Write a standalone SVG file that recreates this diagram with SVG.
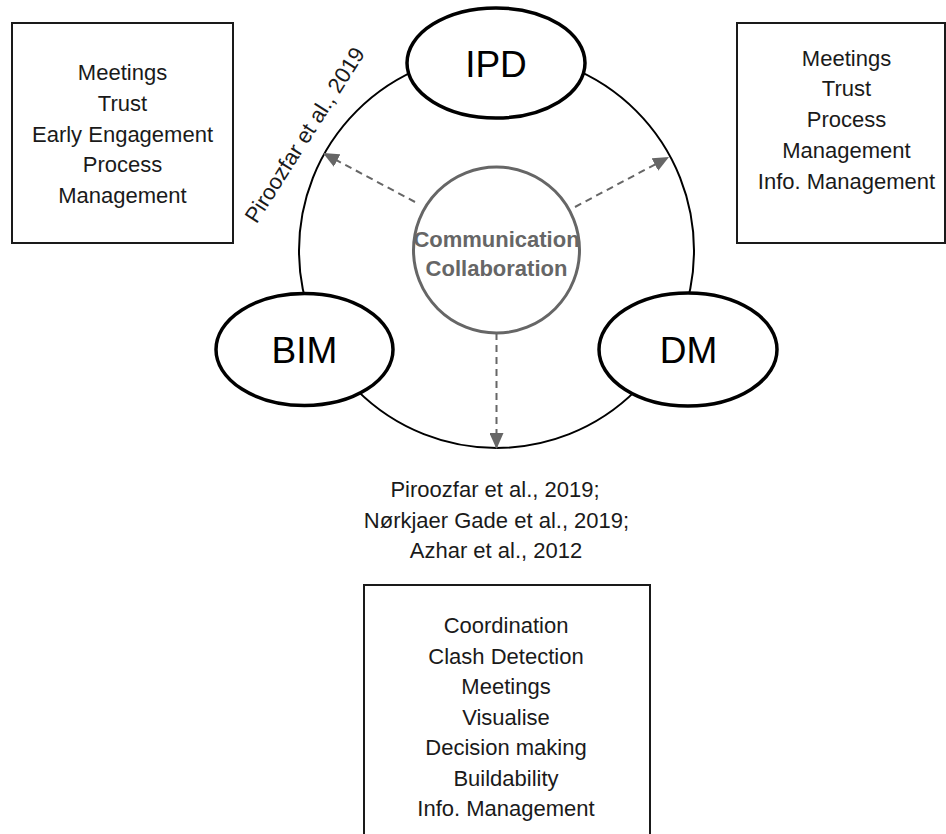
<svg xmlns="http://www.w3.org/2000/svg" width="946" height="834" viewBox="0 0 946 834">
<style>
.t{font-family:"Liberation Sans",Arial,sans-serif;font-size:22px;fill:#1a1a1a;text-anchor:middle}
.big{font-size:37px;fill:#000}
.box{fill:#fff;stroke:#1a1a1a;stroke-width:2}
.ell{fill:#fff;stroke:#000;stroke-width:3.5}
.dash{fill:none;stroke:#666;stroke-width:2;stroke-dasharray:7 5}
</style>
<defs>
<marker id="ah" viewBox="0 0 16 14" refX="16" refY="7" markerWidth="16" markerHeight="14" markerUnits="userSpaceOnUse" orient="auto">
<path d="M0,0 L16,7 L0,14 z" fill="#666"/>
</marker>
</defs>
<rect width="946" height="834" fill="#fff"/>
<g id="ring">
<circle cx="496.5" cy="250.5" r="197.5" fill="none" stroke="#000" stroke-width="2"/>
</g>
<g id="connectors">
<line class="dash" x1="415" y1="202" x2="323" y2="153" marker-end="url(#ah)"/>
<line class="dash" x1="575" y1="207" x2="669" y2="157" marker-end="url(#ah)"/>
<line class="dash" x1="496.5" y1="333" x2="496.5" y2="449" marker-end="url(#ah)"/>
</g>
<g id="center">
<circle cx="496.5" cy="250" r="83" fill="#fff" stroke="#666" stroke-width="3"/>
<text class="t" x="496.5" y="246.5" style="font-weight:bold;fill:#666">Communication</text>
<text class="t" x="496.5" y="276" style="font-weight:bold;fill:#666">Collaboration</text>
</g>
<g id="ipd">
<ellipse class="ell" cx="496" cy="63" rx="89" ry="55"/>
<text class="t big" x="496" y="76.5">IPD</text>
</g>
<g id="bim">
<ellipse class="ell" cx="304.5" cy="349.5" rx="88.5" ry="56"/>
<text class="t big" x="304.5" y="362.5">BIM</text>
</g>
<g id="dm">
<ellipse class="ell" cx="688" cy="349.5" rx="89" ry="56.5"/>
<text class="t big" x="688.5" y="362.5">DM</text>
</g>
<g id="ipd-label">
<text class="t" transform="translate(311,139) rotate(-57.5)" x="0" y="0">Piroozfar et al., 2019</text>
</g>
<g id="box-left">
<rect class="box" x="12" y="23" width="221" height="220"/>
<text class="t" x="122.5" y="80">Meetings</text>
<text class="t" x="122.5" y="110.8">Trust</text>
<text class="t" x="122.5" y="141.6">Early Engagement</text>
<text class="t" x="122.5" y="172.4">Process</text>
<text class="t" x="122.5" y="203.2">Management</text>
</g>
<g id="box-right">
<rect class="box" x="737" y="23" width="208" height="220"/>
<text class="t" x="846.5" y="65.5">Meetings</text>
<text class="t" x="846.5" y="96.3">Trust</text>
<text class="t" x="846.5" y="127.1">Process</text>
<text class="t" x="846.5" y="157.9">Management</text>
<text class="t" x="846.5" y="188.7">Info. Management</text>
</g>
<g id="bim-citation">
<text class="t" x="495" y="497">Piroozfar et al., 2019;</text>
<text class="t" x="496.5" y="527.5">Nørkjaer Gade et al., 2019;</text>
<text class="t" x="496" y="558">Azhar et al., 2012</text>
</g>
<g id="box-bottom">
<rect class="box" x="364" y="585" width="286" height="260"/>
<text class="t" x="506" y="633">Coordination</text>
<text class="t" x="506" y="663.5">Clash Detection</text>
<text class="t" x="506" y="694">Meetings</text>
<text class="t" x="506" y="724.5">Visualise</text>
<text class="t" x="506" y="755">Decision making</text>
<text class="t" x="506" y="785.5">Buildability</text>
<text class="t" x="506" y="816">Info. Management</text>
</g>
</svg>
